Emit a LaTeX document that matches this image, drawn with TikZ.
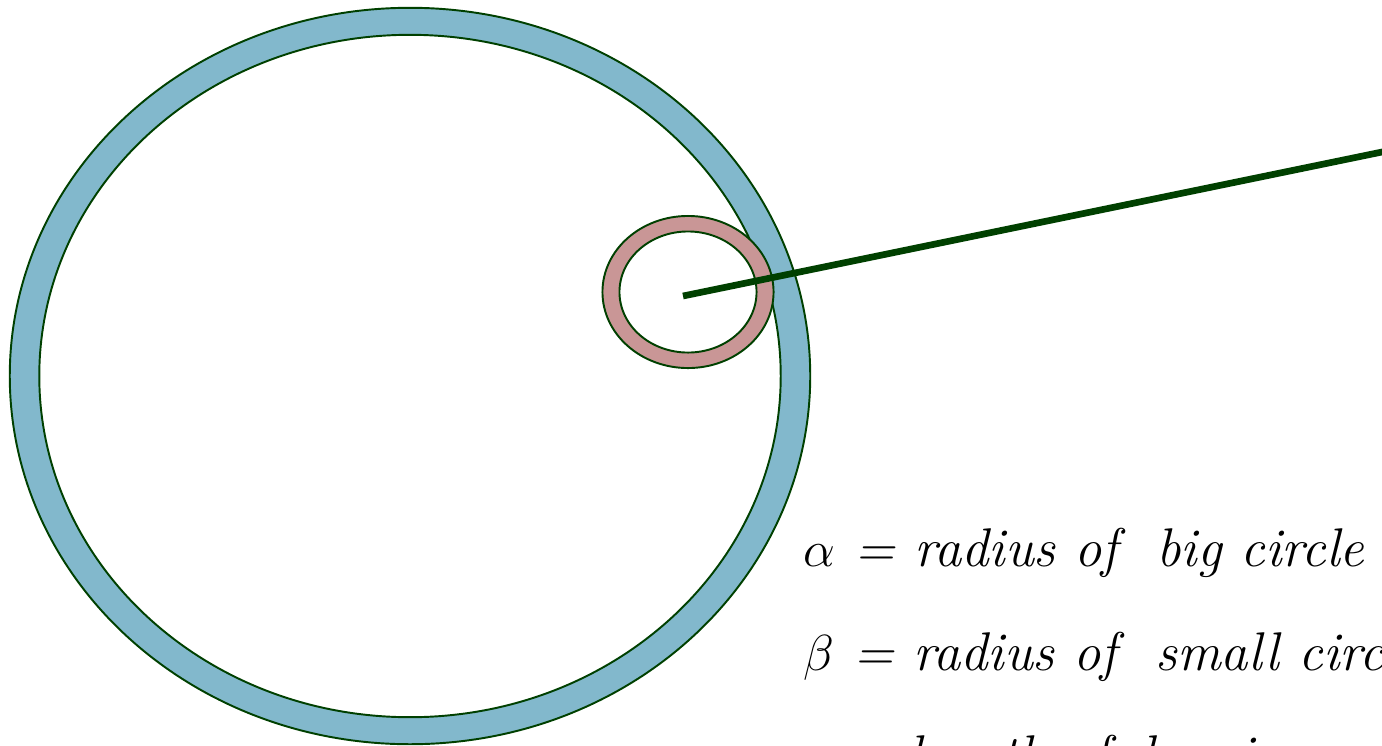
\documentclass[tikz,border=0pt]{standalone}
\usepackage{fontspec}
\usepackage{xcolor}
\definecolor{ringblue}{RGB}{130,184,204}
\definecolor{ringpink}{RGB}{201,150,150}
\definecolor{rimgreen}{RGB}{0,64,0}
\usepackage{tikz}
\usetikzlibrary{positioning}

\begin{document}
\begin{tikzpicture}[x=0.01cm, y=-0.01cm,
    ring/.style={draw=rimgreen, line width=0.55pt, even odd rule},
    arm/.style={draw=rimgreen, line width=1.9pt},
    legend/.style={anchor=base west, inner sep=0pt,
      font=\fontsize{15.5}{18}\selectfont\itshape\addfontfeature{LetterSpace=1}}]
  \useasboundingbox (0,0) rectangle (1382,745);
  \clip (0,0) rectangle (1382,745);
  % big circle (fixed ring) and small circle (rolling ring)
  \coordinate (bigc) at (410,376);
  \coordinate (smallc) at (688,292);
  \fill[ring, fill=ringblue] (bigc) ellipse [x radius=4cm, y radius=3.68cm]
    (bigc) ellipse [x radius=3.705cm, y radius=3.41cm];
  \fill[ring, fill=ringpink] (smallc) ellipse [x radius=0.855cm, y radius=0.76cm]
    (smallc) ellipse [x radius=0.685cm, y radius=0.605cm];
  % drawing arm
  \coordinate (pen) at (683,296);
  \coordinate (armend) at (1500,127.7);
  \draw[arm] (pen) -- (armend);
  % legend
  \node[legend] (alpha) at (803,566) {$\alpha$ = radius of \ big circle};
  \node[legend] (beta) at (803,670) {$\beta$ = radius of \ small circle};
  \node[legend] (rho) at (803,773) {$\rho$ = length of drawing arm};
\end{tikzpicture}
\end{document}
